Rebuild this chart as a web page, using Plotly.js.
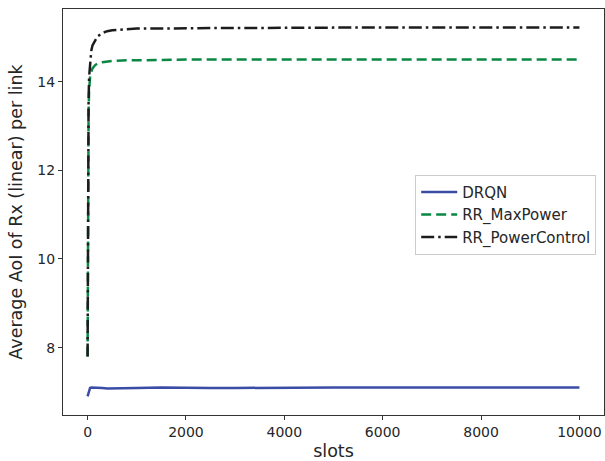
<!DOCTYPE html>
<html>
<head>
<meta charset="utf-8">
<script src="https://cdn.plot.ly/plotly-3.0.1.min.js"></script>
<style>
  html, body { margin: 0; padding: 0; background: #ffffff; }
  #chart { width: 605px; height: 461px; }
</style>
</head>
<body>
<div id="chart"></div>
<script>
// Time slots at which the running averages were sampled
const slots = [0, 5, 10, 20, 30, 50, 75, 100, 150, 200, 300, 400, 500, 700, 1000, 1500, 2000, 2500, 3000, 4000, 5000, 6000, 7000, 8000, 9000, 10000];

// Average AoI per link for each scheduling scheme
const drqn = [6.9, 6.92, 6.95, 7.0, 7.05, 7.09, 7.1, 7.1, 7.1, 7.1, 7.09, 7.08, 7.08, 7.09, 7.09, 7.1, 7.09, 7.09, 7.09, 7.1, 7.1, 7.1, 7.1, 7.1, 7.1, 7.1];
const rrMaxPower = [7.8, 10.3, 12.0, 13.3, 13.8, 14.1, 14.22, 14.3, 14.37, 14.41, 14.44, 14.46, 14.47, 14.48, 14.49, 14.49, 14.5, 14.5, 14.5, 14.5, 14.5, 14.5, 14.5, 14.5, 14.5, 14.5];
const rrPowerControl = [7.8, 10.5, 12.3, 13.5, 14.1, 14.45, 14.7, 14.82, 14.93, 15.02, 15.1, 15.14, 15.16, 15.18, 15.2, 15.2, 15.21, 15.21, 15.21, 15.22, 15.22, 15.22, 15.22, 15.22, 15.22, 15.22];

const seriesNames = ["DRQN", "RR_MaxPower", "RR_PowerControl"];

// Tick positions and labels
const xTicks = [0, 2000, 4000, 6000, 8000, 10000];
const xTickText = ["0", "2000", "4000", "6000", "8000", "10000"];
const yTicks = [8, 10, 12, 14];
const yTickText = ["8", "10", "12", "14"];

const traces = [
  {
    x: slots, y: drqn, name: seriesNames[0], mode: "lines",
    line: { color: "#3b4ca6", width: 2.5 }
  },
  {
    x: slots, y: rrMaxPower, name: seriesNames[1], mode: "lines",
    line: { color: "#0a8743", width: 2.5, dash: "10px,5px" }
  },
  {
    x: slots, y: rrPowerControl, name: seriesNames[2], mode: "lines",
    line: { color: "#1c1c1c", width: 2.5, dash: "13px,4px,2.5px,4px" }
  }
];

const textColor = "#262626";
const axisCommon = {
  showgrid: false,
  zeroline: false,
  showline: true,
  linecolor: "#333333",
  linewidth: 1,
  mirror: true,
  ticks: "outside",
  ticklen: 4,
  tickwidth: 1,
  tickcolor: "#333333",
  automargin: false,
  tickfont: { family: "DejaVu Sans", size: 14, color: textColor }
};

const layout = {
  width: 605,
  height: 461,
  margin: { l: 63, r: 1, t: 9, b: 46 },
  paper_bgcolor: "#ffffff",
  plot_bgcolor: "#ffffff",
  font: { family: "DejaVu Sans", color: textColor },
  xaxis: Object.assign({}, axisCommon, {
    range: [-500, 10500],
    tickvals: xTicks,
    ticktext: xTickText,
    title: { text: "slots", font: { family: "DejaVu Sans", size: 17.5, color: textColor }, standoff: 6 }
  }),
  yaxis: Object.assign({}, axisCommon, {
    range: [6.48, 15.64],
    tickvals: yTicks,
    ticktext: yTickText,
    title: { text: "Average AoI of Rx (linear) per link", font: { family: "DejaVu Sans", size: 17.5, color: textColor }, standoff: 10 }
  }),
  showlegend: true,
  legend: {
    x: 0.651, y: 0.592, xanchor: "left", yanchor: "top",
    bgcolor: "rgba(255,255,255,0.85)",
    bordercolor: "#cccccc",
    borderwidth: 1,
    font: { family: "DejaVu Sans", size: 15, color: textColor },
    itemwidth: 36
  }
};

Plotly.newPlot("chart", traces, layout, { displayModeBar: false, staticPlot: true });
</script>
</body>
</html>
